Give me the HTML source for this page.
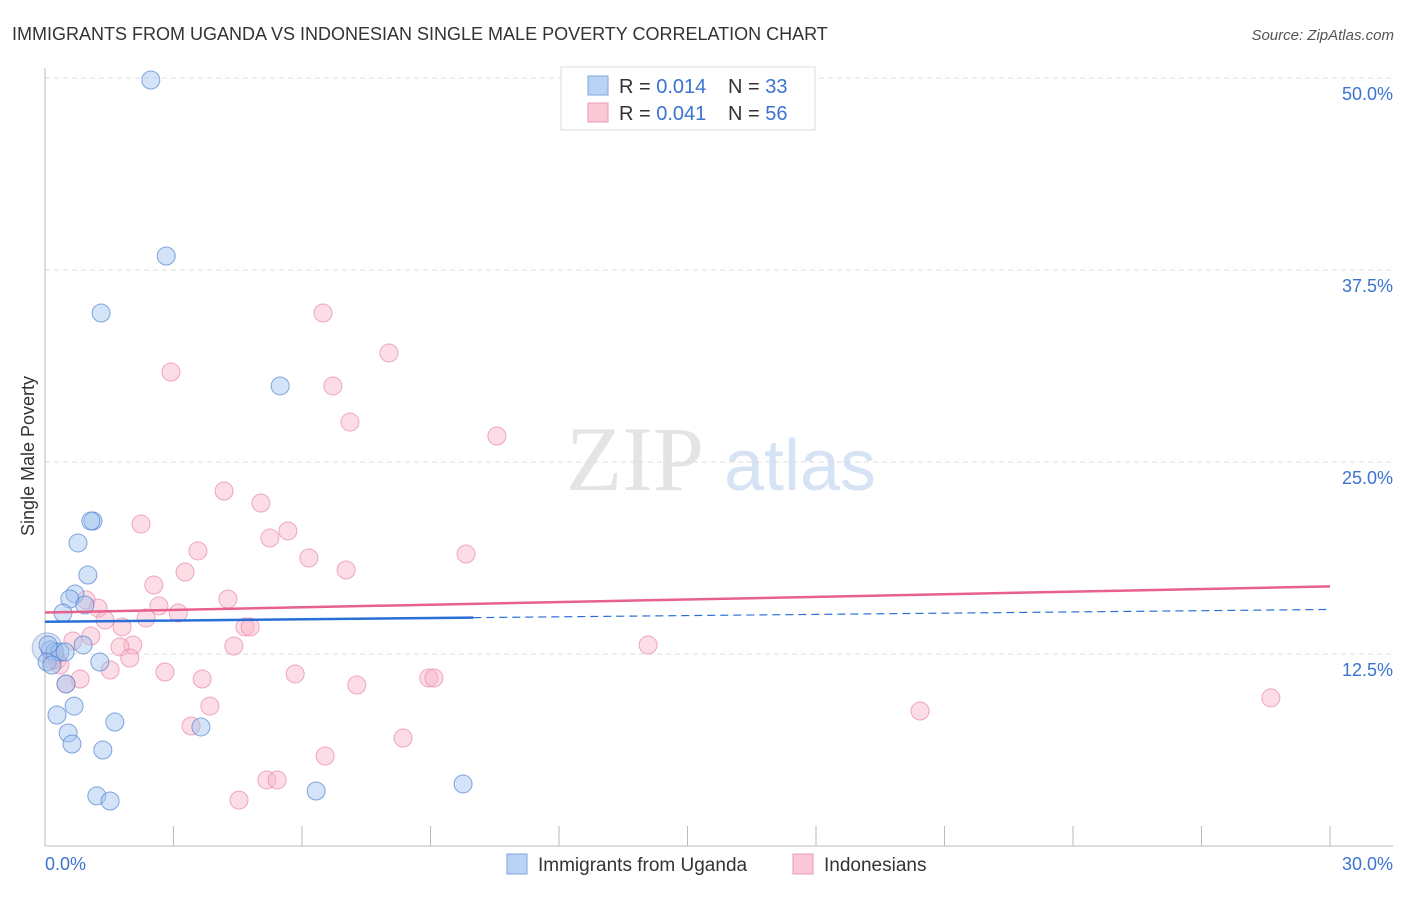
<!DOCTYPE html>
<html><head><meta charset="utf-8"><style>
body{margin:0;background:#fff;font-family:"Liberation Sans",sans-serif}
</style></head><body>
<svg width="1406" height="892" xmlns="http://www.w3.org/2000/svg" id="chart">
<text x="12" y="40" font-size="18" fill="#333">IMMIGRANTS FROM UGANDA VS INDONESIAN SINGLE MALE POVERTY CORRELATION CHART</text>
<text x="1394" y="40" font-size="15" fill="#555" font-style="italic" text-anchor="end">Source: ZipAtlas.com</text>
<text x="635" y="490" font-size="92" fill="#e4e4e4" font-family="Liberation Serif" text-anchor="middle">ZIP</text>
<text x="800" y="490" font-size="72" fill="#d6e3f5" text-anchor="middle">atlas</text>
<text transform="translate(34,456) rotate(-90)" font-size="18" fill="#333" text-anchor="middle">Single Male Poverty</text>
<g id="grid"></g><g id="pts"></g><g id="trend"></g>
<text x="45" y="870" font-size="18" fill="#3b73d1">0.0%</text>
<text x="1393" y="870" font-size="18" fill="#3b73d1" text-anchor="end">30.0%</text>
<g>
<rect x="561" y="67" width="254" height="63" fill="#fff" stroke="#ddd"/>
<rect x="588" y="76" width="20" height="19" fill="#b9d3f5" stroke="#7ea6e0"/>
<rect x="588" y="103" width="20" height="19" fill="#fbc8d8" stroke="#ee9ab5"/>
<text x="619" y="93" font-size="20" fill="#333">R = <tspan fill="#3b73d1">0.014</tspan><tspan x="728">N = </tspan><tspan fill="#3b73d1">33</tspan></text>
<text x="619" y="120" font-size="20" fill="#333">R = <tspan fill="#3b73d1">0.041</tspan><tspan x="728">N = </tspan><tspan fill="#3b73d1">56</tspan></text>
</g>
<g>
<rect x="507" y="854" width="20" height="20" fill="#b9d3f5" stroke="#7ea6e0"/>
<text x="538" y="871" font-size="19" fill="#333">Immigrants from Uganda</text>
<rect x="793" y="854" width="20" height="20" fill="#fbc8d8" stroke="#ee9ab5"/>
<text x="824" y="871" font-size="19" fill="#333">Indonesians</text>
</g>
</svg>
<script>
const xTicks=[0,3,6,9,12,15,18,21,24,27,30];
const yTicks=[12.5,25,37.5,50];
const yTickLabels=["12.5%","25.0%","37.5%","50.0%"];
const ugandaX=[2.47,2.83,1.31,5.49,1.12,1.07,0.77,1.00,0.70,0.58,0.93,0.42,0.89,0.12,0.23,0.35,0.05,0.16,1.28,0.49,0.68,0.28,1.63,3.64,0.54,0.63,1.35,1.21,1.52,6.33,9.76,0.07,0.47];
const ugandaY=[49.87,38.41,34.70,29.95,21.16,21.16,19.73,17.64,16.41,16.08,15.69,15.17,13.09,12.76,12.63,12.63,11.98,11.78,11.98,10.55,9.11,8.53,8.07,7.75,7.36,6.64,6.25,3.26,2.93,3.58,4.04,13.09,12.63];
const indoX=[6.49,8.03,2.94,6.72,7.12,10.55,4.18,5.04,2.24,5.67,5.25,3.57,9.83,6.16,7.03,3.27,2.54,0.96,4.27,2.66,1.24,3.11,2.36,1.40,1.80,4.67,4.79,1.07,0.65,4.41,2.05,1.75,14.08,0.28,0.35,1.98,1.52,2.80,5.84,3.67,0.82,7.28,8.96,9.08,0.49,3.85,20.43,28.62,3.41,8.36,6.54,5.18,5.42,4.53,0.16,0.23];
const indoY=[34.70,32.10,30.86,29.95,27.60,26.69,23.11,22.33,20.96,20.51,20.05,19.21,19.01,18.75,17.97,17.84,16.99,16.02,16.08,15.63,15.49,15.17,14.84,14.71,14.26,14.26,14.26,13.67,13.35,13.02,13.09,12.96,13.09,12.11,11.78,12.24,11.46,11.33,11.20,10.87,10.87,10.48,10.94,10.94,10.55,9.11,8.79,9.64,7.81,7.03,5.86,4.30,4.30,2.99,12.11,12.43];
const ugandaTrend=[14.6,15.4];
const indoTrend=[15.2,16.9];
const ugandaSolidEnd=10;
const NS="http://www.w3.org/2000/svg";
const sx=v=>45+v/30*1285, sy=v=>846-v/50*768;
function mk(tag,a,parent){const e=document.createElementNS(NS,tag);for(const k in a)e.setAttribute(k,a[k]);document.getElementById(parent).appendChild(e);return e;}
yTicks.forEach((t,i)=>{
 const l=mk('line',{x1:45,x2:1393,y1:sy(t),y2:sy(t),stroke:'#ddd','stroke-dasharray':'5,4'},'grid');
 
 
 const tx=mk('text',{x:1393,y:sy(t)+22,'font-size':18,fill:'#3b73d1','text-anchor':'end'},'grid');tx.textContent=yTickLabels[i];
 
 
});
const ax=mk('line',{x1:45,x2:45,y1:68,y2:846,stroke:'#bbb'},'grid');


const bx=mk('line',{x1:45,x2:1393,y1:846,y2:846,stroke:'#bbb'},'grid');


xTicks.forEach(t=>{const l=mk('line',{x1:sx(t),x2:sx(t),y1:826,y2:846,stroke:'#bbb'},'grid');
 
 });
const big=mk('circle',{cx:sx(0.05),cy:sy(12.9),r:15,fill:'rgba(140,170,220,0.3)',stroke:'rgba(100,140,210,0.5)'},'pts');


indoX.forEach((x,i)=>{const c=mk('circle',{cx:sx(x),cy:sy(indoY[i]),r:9,fill:'rgba(248,180,200,0.45)',stroke:'rgba(235,140,170,0.75)'},'pts');
 
 });
ugandaX.forEach((x,i)=>{const c=mk('circle',{cx:sx(x),cy:sy(ugandaY[i]),r:9,fill:'rgba(160,195,240,0.45)',stroke:'rgba(80,130,210,0.7)'},'pts');
 
 });
const uy=x=>ugandaTrend[0]+(ugandaTrend[1]-ugandaTrend[0])*x/30;
const u1=mk('line',{x1:sx(0),y1:sy(uy(0)),x2:sx(ugandaSolidEnd),y2:sy(uy(ugandaSolidEnd)),stroke:'#2a6fd6','stroke-width':2.5},'trend');


const u2=mk('line',{x1:sx(ugandaSolidEnd),y1:sy(uy(ugandaSolidEnd)),x2:sx(30),y2:sy(uy(30)),stroke:'#2a6fd6','stroke-width':1.2,'stroke-dasharray':'8,5'},'trend');


const p=mk('line',{x1:sx(0),y1:sy(indoTrend[0]),x2:sx(30),y2:sy(indoTrend[1]),stroke:'#e8608e','stroke-width':2.5},'trend');


</script>
</body></html>
